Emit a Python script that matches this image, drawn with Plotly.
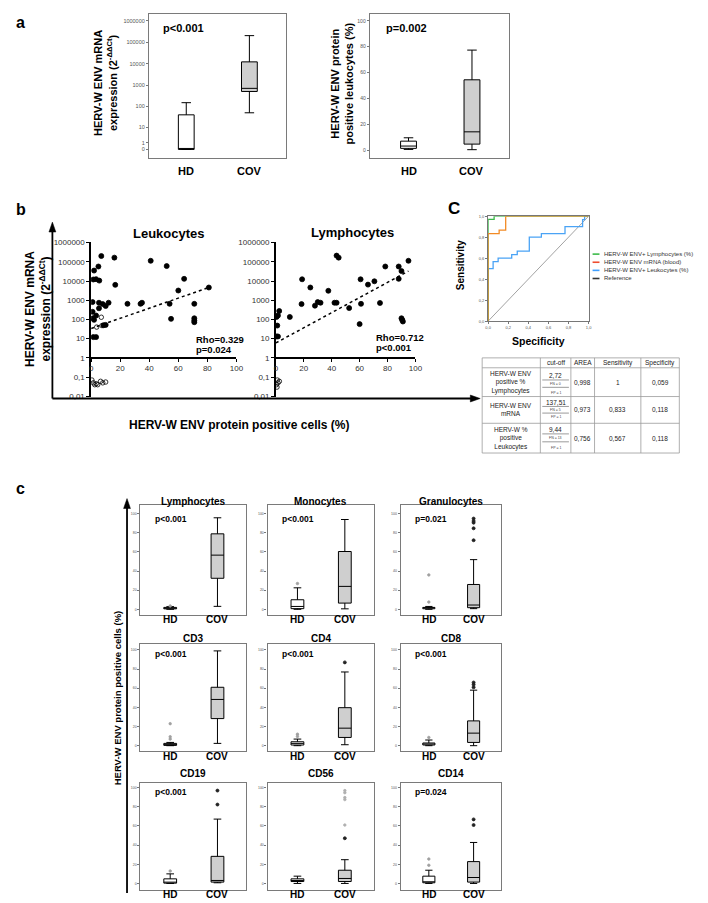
import numpy as np
import plotly.graph_objects as go

W, H = 708, 903
OX, OY = 8, 8            # page body margin offset
FW, FH = W - OX, H - OY  # figure size
FONT = "Liberation Sans"

# ---------------- Panel a data ----------------
groups = ["HD", "COV"]
a_mrna_lo = [0, 50]
a_mrna_q1 = [0, 500]
a_mrna_med = [0, 700]
a_mrna_q3 = [40, 12000]
a_mrna_hi = [150, 200000]
a_mrna_ticks = [0, 1, 10, 100, 1000, 10000, 100000, 1000000]
a_mrna_p = "p<0.001"

a_prot_lo = [0.5, 0.3]
a_prot_q1 = [1.3, 4.6]
a_prot_med = [3.1, 14.1]
a_prot_q3 = [6.9, 54.4]
a_prot_hi = [9.5, 77.4]
a_prot_ticks = [0, 20, 40, 60, 80, 100]
a_prot_p = "p=0.002"

# ---------------- Panel b data ----------------
leuk_x = [1, 1, 1.3, 2, 1.5, 3.4, 5, 7, 5.6, 5.4, 5.4, 3.4, 8, 10, 12, 16, 16.6, 25, 34, 35,
          41, 52, 54, 55, 60, 64, 71, 71, 71, 71, 81, 1.5, 3.4, 2, 8.5, 10]
leuk_y = [800, 250, 115, 35000, 12000, 12500, 57000, 200000, 10500, 740, 380, 160, 630, 500, 740,
          165000, 6300, 650, 650, 740, 113000, 60000, 650, 107, 3200, 13000, 650, 115, 87, 72, 4600,
          12, 12, 95, 50, 52]
leuk_open_x = [3.8, 7.5, 7, 0.5, 1.5, 2.5, 3.5, 4.5, 6.5, 8, 10]
leuk_open_y = [40, 48, 130, 0.07, 0.05, 0.04, 0.045, 0.04, 0.06, 0.05, 0.055]
leuk_trend_x = [0, 81]
leuk_trend_y = [34, 4600]
leuk_stats = ["Rho=0.329", "p=0.024"]

lymph_x = [0.5, 1.5, 2.4, 1, 0.5, 1.5, 10, 18.8, 18.4, 24.7, 28, 30, 32, 37.6, 42, 43.5, 43.5, 45,
           52.5, 60, 60.7, 61, 66, 70.6, 74.6, 78.4, 88, 90, 88, 95, 90, 91, 90.5]
lymph_y = [135, 160, 275, 48, 13, 13, 135, 12300, 630, 4600, 520, 800, 740, 3100, 740, 740, 210000,
           165000, 390, 57, 12300, 650, 6500, 9700, 720, 57000, 57000, 33000, 13000, 113000, 115, 78, 95]
lymph_open_x = [0.3, 0.8, 1.5, 2.5, 1.0]
lymph_open_y = [0.04, 0.03, 0.05, 0.06, 0.07]
lymph_trend_x = [0, 95]
lymph_trend_y = [6, 33000]
lymph_stats = ["Rho=0.712", "p<0.001"]

b_yticks = [1000000, 100000, 10000, 1000, 100, 10, 1, 0.1, 0.01]
b_yticktext = ["1000000", "100000", "10000", "1000", "100", "10", "1", "0,1", "0,01"]
b_xticks = [0, 20, 40, 60, 80, 100]

# ---------------- Panel C (ROC) data ----------------
roc_names = ["HERV-W ENV+ Lymphocytes (%)", "HERV-W ENV mRNA (blood)", "HERV-W ENV+ Leukocytes (%)", "Reference"]
roc_legend_colors = ["#3dbb4a", "#ef4d2f", "#3f9fff", "#333333"]
roc_green_x = [0, 0, 0.06, 0.06, 1]
roc_green_y = [0, 0.97, 0.97, 1, 1]
roc_orange_x = [0, 0, 0.11, 0.11, 0.175, 0.175, 1]
roc_orange_y = [0, 0.833, 0.833, 0.867, 0.867, 1, 1]
roc_blue_x = [0, 0, 0.05, 0.05, 0.1, 0.1, 0.235, 0.235, 0.29, 0.29, 0.41, 0.41, 0.53, 0.53,
              0.765, 0.765, 0.94, 0.94, 0.96, 0.96, 1]
roc_blue_y = [0, 0.5, 0.5, 0.567, 0.567, 0.6, 0.6, 0.633, 0.633, 0.667, 0.667, 0.8, 0.8, 0.833,
              0.833, 0.9, 0.9, 0.967, 0.967, 1, 1]
roc_ref_x = [0, 1]
roc_ref_y = [0, 1]
roc_ticks = [0, 0.2, 0.4, 0.6, 0.8, 1.0]
roc_ticktext = ["0,0", "0,2", "0,4", "0,6", "0,8", "1,0"]

tbl_header = ["cut-off", "AREA", "Sensitivity", "Specificity"]
tbl_rows = ["HERV-W ENV<br>positive %<br>Lymphocytes", "HERV-W ENV<br>mRNA", "HERV-W %<br>positive<br>Leukocytes"]
tbl_cutoff = ["2,72", "137,51", "9,44"]
tbl_fn = ["FN = 0", "FN = 5", "FN = 13"]
tbl_fp = ["FP = 1", "FP = 1", "FP = 1"]
tbl_area = ["0,998", "0,973", "0,756"]
tbl_sens = ["1", "0,833", "0,567"]
tbl_spec = ["0,059", "0,118", "0,118"]

# ---------------- Panel c data ----------------
c_titles = ["Lymphocytes", "Monocytes", "Granulocytes", "CD3", "CD4", "CD8", "CD19", "CD56", "CD14"]
c_pvals = ["p<0.001", "p<0.001", "p=0.021", "p<0.001", "p<0.001", "p<0.001", "p<0.001", "", "p=0.024"]
# [lower whisker, q1, median, q3, upper whisker]
c_hd_stats = [
    [0, 0.5, 1.2, 2.0, 2.8],
    [0, 0.7, 3.0, 10.0, 22.5],
    [0, 0.6, 1.5, 2.0, 3.0],
    [0, 0.3, 1.4, 2.4, 3.4],
    [0, 0.7, 2.4, 4.1, 6.9],
    [0, 0.7, 1.7, 2.8, 5.9],
    [0, 0.3, 0.7, 4.8, 10.0],
    [0, 2.0, 3.1, 4.8, 7.6],
    [0, 0.7, 1.4, 7.6, 13.8],
]
c_cov_stats = [
    [3.1, 32.5, 56.7, 79.0, 95.8],
    [0.5, 6.5, 24.0, 60.5, 94.0],
    [0.7, 1.7, 4.5, 26.0, 52.0],
    [2.4, 28.3, 48.3, 61.0, 99.0],
    [1.0, 8.6, 18.3, 39.7, 77.0],
    [0.0, 3.4, 13.1, 25.9, 58.0],
    [0.7, 1.4, 3.1, 28.3, 67.2],
    [0.0, 2.0, 5.2, 13.8, 24.8],
    [0.0, 1.4, 6.2, 22.8, 42.8],
]
c_hd_out = [[3.5], [27], [7.6, 36], [6.9, 9.3, 23], [9.7, 12], [8.6], [13], [], [19, 25.5]]
c_cov_out = [[], [], [72.3, 84.8, 90.7, 92.4, 95], [], [87], [61, 63.8, 66], [82.4, 97], [47.2], [61, 66.9]]
c_cov_out_faint = [[], [], [], [], [], [], [], [61, 87.6, 89.7, 94.8, 97], []]
c_ticks = [0, 20, 40, 60, 80, 100]

# ======================================================================
fig = go.Figure()
layout = dict(width=FW, height=FH, margin=dict(l=0, r=0, t=0, b=0), paper_bgcolor="white",
              plot_bgcolor="rgba(0,0,0,0)", showlegend=False,
              font=dict(family=FONT, color="black"))
annotations = []
shapes = []


def names(n):
    s = "" if n == 1 else str(n)
    return "xaxis" + s, "yaxis" + s, "x" + s, "y" + s


def px(x):
    return (x - OX) / FW


def py(y):
    return 1 - (y - OY) / FH


def xd(p0, p1):
    return [px(p0), px(p1)]


def yd(top, bot):
    return [py(bot), py(top)]


def ann(x, y, text, size, xanchor="center", yanchor="middle", angle=0, color="black"):
    annotations.append(dict(x=px(x), y=py(y), xref="paper", yref="paper",
                            text=text, showarrow=False, textangle=angle,
                            font=dict(size=size, color=color, family=FONT),
                            xanchor=xanchor, yanchor=yanchor))


def ax_ann(xref, xval, y, text, size):
    annotations.append(dict(x=xval, y=py(y), xref=xref, yref="paper", text=text, showarrow=False,
                            xanchor="center", yanchor="middle", font=dict(size=size, family=FONT)))


def line(x0, y0, x1, y1, color="black", width=1):
    shapes.append(dict(type="line", xref="paper", yref="paper", x0=px(x0), x1=px(x1),
                       y0=py(y0), y1=py(y1), line=dict(color=color, width=width)))


def tri(points):
    path = "M " + " L ".join(f"{px(a):.5f},{py(b):.5f}" for a, b in points) + " Z"
    shapes.append(dict(type="path", xref="paper", yref="paper", path=path,
                       fillcolor="black", line=dict(color="black", width=0.5)))


def lin_range(top, bot, ptop, pbot, vtop, vbot):
    s = (vtop - vbot) / (pbot - ptop)
    return [vbot - (bot - pbot) * s, vtop + (ptop - top) * s]


def box_panel(n, left, right, top, bot, xr, yr, tickvals, ticktext, tsize, fcolor="#7a7a7a"):
    xa, ya, xr_, yr_ = names(n)
    layout[xa] = dict(domain=xd(left, right), range=xr, anchor=yr_, showline=True, mirror=True,
                      linecolor=fcolor, linewidth=1.2, showticklabels=False, ticks="",
                      showgrid=False, zeroline=False)
    layout[ya] = dict(domain=yd(top, bot), range=yr, anchor=xr_, showline=True, mirror=True,
                      linecolor=fcolor, linewidth=1.2, tickmode="array", tickvals=tickvals,
                      ticktext=ticktext, ticks="outside", ticklen=2, tickwidth=0.6, tickcolor="#777",
                      tickfont=dict(size=tsize, color="#555", family=FONT),
                      showgrid=False, zeroline=False)


def add_box(n, xpos, lo, q1, med, q3, hi, fill, width):
    _, _, xr_, yr_ = names(n)
    fig.add_trace(go.Box(x=[xpos], lowerfence=[lo], q1=[q1], median=[med], q3=[q3], upperfence=[hi],
                         orientation="v", fillcolor=fill, line=dict(color="black", width=1),
                         width=width, whiskerwidth=0.6, boxpoints=False, xaxis=xr_, yaxis=yr_,
                         hoverinfo="skip"))


def add_pts(n, xs, ys, color, size, symbol="circle"):
    if len(xs) == 0:
        return
    _, _, xr_, yr_ = names(n)
    fig.add_trace(go.Scatter(x=xs, y=ys, mode="markers", xaxis=xr_, yaxis=yr_, hoverinfo="skip",
                             marker=dict(color=color, size=size, symbol=symbol,
                                         line=dict(width=0.8, color=color))))


HD_FILL, COV_FILL = "white", "#cfcfcf"

# ---------------- Panel a ----------------
ann(11, 8.5, "<b>a</b>", 16, "left", "top")
T = lambda v: float(np.log10(v + 1))
yr1 = lin_range(10, 155, 16.7, 146.7, T(1000000), 0)
box_panel(1, 148, 287, 10, 155, [-0.59, 1.58], yr1, [T(t) for t in a_mrna_ticks],
          [str(t) for t in a_mrna_ticks], 5.5)
for i, fill in enumerate([HD_FILL, COV_FILL]):
    add_box(1, i, T(a_mrna_lo[i]), T(a_mrna_q1[i]), T(a_mrna_med[i]), T(a_mrna_q3[i]), T(a_mrna_hi[i]), fill, 0.25)
ann(160, 24, "<b>" + a_mrna_p + "</b>", 11, "left")
for i, g in enumerate(groups):
    ax_ann("x", i, 168, "<b>" + g + "</b>", 11)
ann(104, 80, "<b>HERV-W ENV mRNA<br>expression (2<sup>-ΔΔCt</sup>)</b>", 11, angle=-90)

yr2 = lin_range(10, 155, 17, 147.3, 100, 0)
box_panel(2, 372, 513, 10, 155, [-0.61, 1.58], yr2, a_prot_ticks, [str(t) for t in a_prot_ticks], 5)
for i, fill in enumerate([HD_FILL, COV_FILL]):
    add_box(2, i, a_prot_lo[i], a_prot_q1[i], a_prot_med[i], a_prot_q3[i], a_prot_hi[i], fill, 0.25)
ann(386, 24, "<b>" + a_prot_p + "</b>", 11, "left")
for i, g in enumerate(groups):
    ax_ann("x2", i, 168, "<b>" + g + "</b>", 11)
ann(344, 80, "<b>HERV-W ENV protein<br>positive leukocytes (%)</b>", 11, angle=-90)

# ---------------- Panel b ----------------
ann(11, 207, "<b>b</b>", 16, "left")
b_yr = [np.log10(0.01) - 0.05, np.log10(1000000) + 0.02]
b_ydom = yd(240.3, 396.7)
pos1 = b_ydom[0] + (0 - b_yr[0]) / (b_yr[1] - b_yr[0]) * (b_ydom[1] - b_ydom[0])
for n, (l, r) in zip([3, 4], [(89.3, 236.7), (276.7, 418.3)]):
    xa, ya, xr_, yr_ = names(n)
    layout[xa] = dict(domain=xd(l, r), range=[0, 100], anchor="free", position=pos1, showline=True,
                      linecolor="black", linewidth=1.5, tickvals=b_xticks, ticks="outside", ticklen=3,
                      tickcolor="black", tickfont=dict(size=8, color="#333", family=FONT),
                      showgrid=False, zeroline=False)
    layout[ya] = dict(domain=b_ydom, type="log", range=b_yr, anchor=xr_, showline=True,
                      linecolor="black", linewidth=1.5, tickvals=b_yticks, ticktext=b_yticktext,
                      ticks="outside", ticklen=3, tickcolor="black",
                      tickfont=dict(size=8, color="#333", family=FONT), showgrid=False, zeroline=False)

for n, tx_, ty_, ox, oy, sx, sy in [(3, leuk_trend_x, leuk_trend_y, leuk_open_x, leuk_open_y, leuk_x, leuk_y),
                                    (4, lymph_trend_x, lymph_trend_y, lymph_open_x, lymph_open_y, lymph_x, lymph_y)]:
    _, _, xr_, yr_ = names(n)
    fig.add_trace(go.Scatter(x=tx_, y=ty_, mode="lines", xaxis=xr_, yaxis=yr_, hoverinfo="skip",
                             line=dict(color="black", width=1.5, dash="dot")))
    add_pts(n, sx, sy, "black", 5)
    add_pts(n, ox, oy, "black", 4.5, "circle-open")

ann(168, 231, "<b>Leukocytes</b>", 13)
ann(354, 230, "<b>Lymphocytes</b>", 13)
ann(194, 338, "<b>" + leuk_stats[0] + "</b>", 9.5, "left")
ann(194, 348.5, "<b>" + leuk_stats[1] + "</b>", 9.5, "left")
ann(376.5, 336, "<b>" + lymph_stats[0] + "</b>", 9.5, "left")
ann(376.5, 346.5, "<b>" + lymph_stats[1] + "</b>", 9.5, "left")
ann(36, 308, "<b>HERV-W ENV mRNA<br>expression (2<sup>-ΔΔCt</sup>)</b>", 12, angle=-90)
ann(240, 425, "<b>HERV-W ENV protein positive cells (%)</b>", 12)
# axis arrows
line(50, 398, 50, 228, "black", 1.8)
tri([(46.5, 230), (50, 220), (53.5, 230)])
line(50, 398, 476, 398, "black", 1.8)
tri([(474, 394.5), (484, 398), (474, 401.5)])

# ---------------- Panel C (ROC) ----------------
ann(457, 206, "<b>C</b>", 17)
xa, ya, xr_, yr_ = names(5)
layout[xa] = dict(domain=xd(492, 594), range=[0, 1], anchor=yr_, showline=True, mirror=True,
                  linecolor="#777", linewidth=1, tickvals=roc_ticks, ticktext=roc_ticktext,
                  ticks="outside", ticklen=2, tickcolor="#777", tickfont=dict(size=4, color="#555", family=FONT),
                  showgrid=False, zeroline=False)
layout[ya] = dict(domain=yd(214, 320), range=[0, 1], anchor=xr_, showline=True, mirror=True,
                  linecolor="#777", linewidth=1, tickvals=roc_ticks, ticktext=roc_ticktext,
                  ticks="outside", ticklen=2, tickcolor="#777", tickfont=dict(size=4, color="#555", family=FONT),
                  showgrid=False, zeroline=False)
for xs, ys, col, w in [(roc_ref_x, roc_ref_y, "#8a8a8a", 0.8), (roc_blue_x, roc_blue_y, "#4aa3f5", 1.3),
                       (roc_green_x, roc_green_y, "#3cb94a", 1.3), (roc_orange_x, roc_orange_y, "#f28a24", 1.3)]:
    fig.add_trace(go.Scatter(x=xs, y=ys, mode="lines", xaxis=xr_, yaxis=yr_, hoverinfo="skip",
                             line=dict(color=col, width=w)))
ann(464, 263, "<b>Sensitivity</b>", 10, angle=-90)
ann(543, 340, "<b>Specificity</b>", 10.5)
for i, (nm, col) in enumerate(zip(roc_names, roc_legend_colors)):
    yy = 252.3 + i * 8.2
    line(598, yy, 605, yy, col, 1.6)
    ann(608, yy, nm, 6, "left", color="#333")

# table
tx = [486, 545, 576, 600, 647, 686]
ty = [357, 367, 396, 423, 453]
for xv in tx:
    line(xv, ty[0], xv, ty[-1], "#9a9a9a", 0.8)
for yv in ty:
    line(tx[0], yv, tx[-1], yv, "#9a9a9a", 0.8)
for j, h in enumerate(tbl_header):
    ann((tx[j + 1] + tx[j + 2]) / 2, 362, h, 6.5, color="#222")
sub_lines = [(379.3, 386.7), (406, 412.7), (433.7, 441.7)]
cut_y = [374.5, 402.5, 429.3]
fn_y = [383, 409.5, 437.8]
fp_y = [392.5, 417, 448]
for i in range(3):
    yc = (ty[i + 1] + ty[i + 2]) / 2
    ann((tx[0] + tx[1]) / 2, yc, tbl_rows[i], 6.5, color="#222")
    ann((tx[1] + tx[2]) / 2, cut_y[i], tbl_cutoff[i], 6.5, color="#222")
    ann((tx[1] + tx[2]) / 2, fn_y[i], tbl_fn[i], 3.5, color="#444")
    ann((tx[1] + tx[2]) / 2, fp_y[i], tbl_fp[i], 3.5, color="#444")
    for yl in sub_lines[i]:
        line(547, yl, 574, yl, "#555", 0.6)
    ann((tx[2] + tx[3]) / 2, yc, tbl_area[i], 6.5, color="#222")
    ann((tx[3] + tx[4]) / 2, yc, tbl_sens[i], 6.5, color="#222")
    ann((tx[4] + tx[5]) / 2, yc, tbl_spec[i], 6.5, color="#222")

# ---------------- Panel c ----------------
ann(11, 489, "<b>c</b>", 16, "left")
cols = [(139.3, 246.7), (268.3, 376), (403.3, 505)]
rows = [(505, 616), (645.7, 753.3), (785.7, 893.5)]
row_ticks = [(514.3, 610.7), (651.7, 748.3), (790.7, 887.3)]
title_y = [501.5, 640, 776.7]
p_y = [519.3, 656, 795]
lab_y = [621, 759.7, 898.3]
for k in range(9):
    r, c = divmod(k, 3)
    n = 6 + k
    l, rt = cols[c]
    t, b = rows[r]
    yr = lin_range(t, b, row_ticks[r][0], row_ticks[r][1], 100, 0)
    box_panel(n, l, rt, t, b, [-0.63, 1.61], yr, c_ticks, [str(v) for v in c_ticks], 3.5)
    add_box(n, 0, *c_hd_stats[k], HD_FILL, 0.27)
    add_box(n, 1, *c_cov_stats[k], COV_FILL, 0.27)
    add_pts(n, [0] * len(c_hd_out[k]), c_hd_out[k], "#a0a0a0", 2.5)
    add_pts(n, [1] * len(c_cov_out_faint[k]), c_cov_out_faint[k], "#b0b0b0", 2.5)
    add_pts(n, [1] * len(c_cov_out[k]), c_cov_out[k], "#222", 3)
    ann((l + rt) / 2, title_y[r], "<b>" + c_titles[k] + "</b>", 10)
    if c_pvals[k]:
        ann(l + 12.4, p_y[r], "<b>" + c_pvals[k] + "</b>", 8.5, "left")
    _, _, xr_, _ = names(n)
    for i, g in enumerate(groups):
        ax_ann(xr_, i, lab_y[r], "<b>" + g + "</b>", 10)
ann(116, 700, "<b>HERV-W ENV protein positive cells (%)</b>", 9.5, angle=-90)
line(125.7, 897, 125.7, 507, "black", 1.8)
tri([(122.2, 509), (125.7, 499), (129.2, 509)])

layout["annotations"] = annotations
layout["shapes"] = shapes
fig.update_layout(**layout)
fig.write_html("out.html")
